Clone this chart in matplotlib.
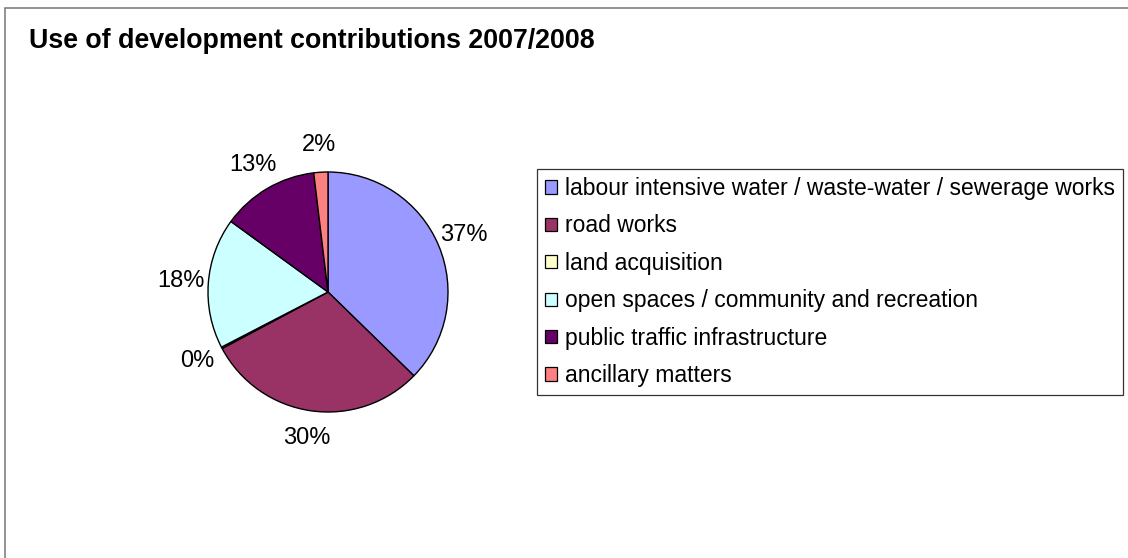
import matplotlib
matplotlib.use('Agg')
import matplotlib.pyplot as plt
from matplotlib.patches import Rectangle

plt.rcParams['font.family'] = ['Liberation Sans', 'DejaVu Sans']

categories = [
    'labour intensive water / waste-water / sewerage works',
    'road works',
    'land acquisition',
    'open spaces / community and recreation',
    'public traffic infrastructure',
    'ancillary matters',
]
shares = [37.3, 29.9, 0.2, 17.6, 13.1, 1.9]
colors = ['#9999FF', '#993366', '#FFFFCC', '#CCFFFF', '#660066', '#FF8080']
title = 'Use of development contributions 2007/2008'

W, H = 1128, 558
fig = plt.figure(figsize=(W / 100, H / 100), dpi=100)

# outer chart frame (runs off the right/bottom of the picture)
fig.patches.append(Rectangle((4.5 / W, -0.1), 1.2, 1 - 8.5 / H + 0.1,
                             transform=fig.transFigure, fill=False,
                             edgecolor='#808080', linewidth=1.2))

fig.text(29 / W, 1 - 47.5 / H, title, fontsize=19.3, fontweight='bold',
         ha='left', va='baseline')

# pie: centre (328, 292), radius 120 px
cx, cy, r = 328, 292, 120
ax = fig.add_axes([(cx - r) / W, 1 - (cy + r) / H, 2 * r / W, 2 * r / H])
wedges, texts, autotexts = ax.pie(
    shares, colors=colors, startangle=90, counterclock=False,
    autopct='%.0f%%', pctdistance=1.23,
    wedgeprops=dict(edgecolor='black', linewidth=1.0),
    textprops=dict(fontsize=17),
)
for t in autotexts:
    t.set_clip_on(False)
ax.set_xlim(-1, 1)
ax.set_ylim(-1, 1)

leg = fig.legend(wedges, categories, loc='upper left',
                 bbox_to_anchor=(537 / W, 1 - 169 / H), borderaxespad=0,
                 fontsize=16.5, frameon=True, fancybox=False,
                 handlelength=0.52, handleheight=0.52, handletextpad=0.35,
                 labelspacing=0.63, borderpad=0.35)
leg.get_frame().set_edgecolor('black')
leg.get_frame().set_linewidth(0.9)
for h in leg.legend_handles:
    h.set_edgecolor('black')
    h.set_linewidth(0.9)

fig.savefig('out.png', dpi=100)
